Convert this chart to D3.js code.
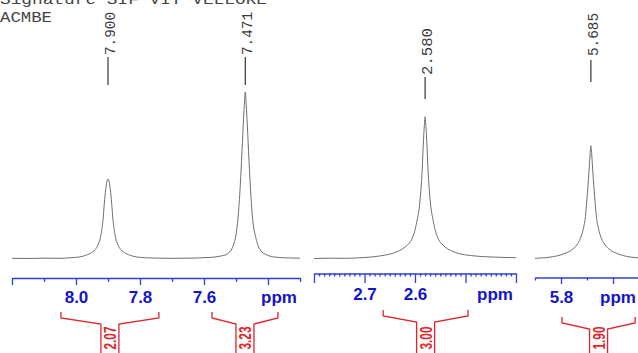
<!DOCTYPE html>
<html>
<head>
<meta charset="utf-8">
<script src="https://cdn.jsdelivr.net/npm/d3@7"></script>
<style>
  html, body { margin: 0; padding: 0; background: #fff; }
  svg { display: block; }
</style>
</head>
<body>
<svg id="chart" width="638" height="353"></svg>
<script>
// ---- spectrum traces: [chemical shift (ppm), intensity (tallest peak = 100)] ----
const aromaticTrace = [
  [8.20,0.4],[8.15,0.3],[8.10,0.5],[8.05,0.4],[8.02,0.7],[7.99,1.2],[7.973,2.0],[7.955,3.4],
  [7.940,5.6],[7.930,9.0],[7.923,13.5],[7.9156,23.5],[7.9114,33.5],[7.9073,41.5],[7.9035,46.3],
  [7.900,47.9],[7.8965,46.3],[7.8927,41.5],[7.8886,33.5],[7.8844,23.5],[7.877,13.5],[7.870,9.0],
  [7.860,5.6],[7.845,3.4],[7.827,2.0],[7.81,1.2],[7.78,0.7],[7.74,0.5],[7.70,0.4],[7.65,0.5],
  [7.62,0.6],[7.60,0.8],[7.575,1.0],[7.55,1.7],[7.5335,2.4],[7.5148,5.4],[7.507,9.0],[7.500,14.4],
  [7.4938,24.4],[7.4866,44.3],[7.4813,64.3],[7.4763,84.3],[7.4735,94.0],[7.471,100],[7.4685,94.0],
  [7.4657,84.3],[7.4607,64.3],[7.4554,44.3],[7.4482,24.4],[7.4376,12.4],[7.4241,5.4],[7.4032,2.4],
  [7.38,1.2],[7.3563,0.8],[7.33,0.6],[7.30,0.5]
];
const methylTrace = [
  [2.80,0.3],[2.77,0.5],[2.74,0.4],[2.71,0.7],[2.68,1.4],[2.66,2.3],[2.645,3.3],[2.635,4.4],
  [2.625,6.0],[2.615,8.4],[2.607,11.5],[2.601,16.3],[2.596,23.0],[2.591,32.3],[2.586,52.2],
  [2.583,72.3],[2.5815,80.0],[2.580,85.2],[2.5785,80.0],[2.577,72.3],[2.574,52.2],[2.569,32.3],
  [2.564,23.0],[2.559,16.3],[2.553,11.5],[2.545,8.4],[2.535,6.0],[2.524,4.4],[2.51,3.0],
  [2.49,2.1],[2.464,1.4],[2.44,1.1],[2.42,0.9],[2.40,0.8]
];
const vinylTrace = [
  [5.90,0.4],[5.88,0.6],[5.858,0.8],[5.83,1.4],[5.80,2.5],[5.784,3.4],[5.76,5.3],[5.7396,8.4],
  [5.725,12.5],[5.7138,18.4],[5.706,25.5],[5.701,34.3],[5.6915,54.3],[5.688,63.0],[5.685,67.8],
  [5.682,63.0],[5.6785,54.3],[5.669,34.3],[5.664,25.5],[5.6562,18.4],[5.645,12.5],[5.6304,8.4],
  [5.61,5.3],[5.5858,3.4],[5.56,2.0],[5.535,1.2],[5.512,0.8],[5.50,0.7]
];

// ---- picked peaks (ppm) ----
const aromaticPeaks = [7.900, 7.471];
const methylPeaks = [2.580];
const vinylPeaks = [5.685];

// ---- integrals: [from ppm, to ppm, value] ----
const aromaticIntegrals = [[8.047, 7.741, 2.07], [7.575, 7.369, 3.23]];
const methylIntegrals = [[2.663, 2.495, 3.00]];
const vinylIntegrals = [[5.796, 5.515, 1.90]];

// ---- axis ticks ----
const aromaticMajor = [8.2, 8.0, 7.8, 7.6, 7.4];
const aromaticMinor = [8.1, 7.9, 7.7, 7.5, 7.3];
const aromaticLabels = ["8.0", "7.8", "7.6"];
const methylMajor = [2.8, 2.7, 2.6, 2.5, 2.4];
const methylLabels = ["2.7", "2.6"];
const vinylMajor = [5.8, 5.6];
const vinylMinor = [5.9, 5.7, 5.5];
const vinylLabels = ["5.8"];

const headerLines = ["Signature SIF VIT VELLORE", "ACMBE"];

// ---------------------------------------------------------------
const svg = d3.select("#chart");
const AXIS_BLUE = "#2f3fd8";
const LABEL_BLUE = "#1414cc";
const INT_RED = "#e0262a";
const TRACE = "#6f6f6f";

const y = d3.scaleLinear().domain([0, 100]).range([259, 92]);

const panels = [
  { trace: aromaticTrace, peaks: aromaticPeaks, integrals: aromaticIntegrals,
    major: aromaticMajor, minor: aromaticMinor, labels: aromaticLabels,
    x: d3.scaleLinear().domain([8.2, 7.3]).range([12, 300]),
    axisY: 278, majorLen: 7, minorLen: 4, labelY: 303,
    peakTextBottom: 55, peakLine: [57, 85], peakTextLen: 43,
    intTop: 312 },
  { trace: methylTrace, peaks: methylPeaks, integrals: methylIntegrals,
    major: methylMajor, minor: d3.range(240, 281).map(i => i / 100).filter(v => Math.round(v * 100) % 10 !== 0), labels: methylLabels,
    x: d3.scaleLinear().domain([2.8, 2.4]).range([314, 516]),
    axisY: 273.5, majorLen: 9.5, minorLen: 3, labelY: 300,
    peakTextBottom: 75, peakLine: [77, 99], peakTextLen: 47,
    intTop: 310 },
  { trace: vinylTrace, peaks: vinylPeaks, integrals: vinylIntegrals,
    major: vinylMajor, minor: vinylMinor, labels: vinylLabels,
    x: d3.scaleLinear().domain([5.9, 5.5]).range([535, 639]),
    axisY: 277.5, majorLen: 6.5, minorLen: 3, labelY: 302.5,
    peakTextBottom: 56, peakLine: [60, 82], peakTextLen: 43,
    intTop: 317 }
];

const fmt1 = d3.format(".1f");

panels.forEach(p => {
  // spectrum trace
  const line = d3.line()
    .x(d => p.x(d[0]))
    .y(d => y(d[1]))
    .curve(d3.curveMonotoneX);
  svg.append("path")
    .datum(p.trace.slice().sort((a, b) => a[0] - b[0]))
    .attr("d", line)
    .attr("fill", "none")
    .attr("stroke", TRACE)
    .attr("stroke-width", 1);

  // ppm axis: minor ticks then labelled major ticks
  const g = svg.append("g").attr("transform", `translate(0,${p.axisY})`);
  g.append("g").call(
    d3.axisBottom(p.x).tickValues(p.minor).tickSize(p.minorLen).tickSizeOuter(0).tickFormat("")
  );
  const gMaj = g.append("g").call(
    d3.axisBottom(p.x).tickValues(p.major).tickSize(p.majorLen).tickSizeOuter(0)
      .tickFormat(d => p.labels.includes(fmt1(d)) ? fmt1(d) : "")
  );
  gMaj.select(".domain").remove();
  g.selectAll(".domain").attr("stroke", AXIS_BLUE).attr("stroke-width", 1.3);
  g.selectAll(".tick line").attr("stroke", AXIS_BLUE).attr("stroke-width", 1.3);
  gMaj.selectAll(".tick text")
    .attr("y", p.labelY - p.axisY)
    .attr("dy", null)
    .attr("fill", LABEL_BLUE)
    .attr("font-family", "'Liberation Sans', Arial, sans-serif")
    .attr("font-weight", "bold")
    .attr("font-size", 17);
  svg.append("text")
    .attr("x", p.x.range()[1] - 21)
    .attr("y", p.labelY)
    .attr("text-anchor", "middle")
    .attr("fill", LABEL_BLUE)
    .attr("font-family", "'Liberation Sans', Arial, sans-serif")
    .attr("font-weight", "bold")
    .attr("font-size", 17)
    .text("ppm");

  // peak picks
  p.peaks.forEach(v => {
    const px = p.x(v);
    svg.append("line")
      .attr("x1", px).attr("x2", px)
      .attr("y1", p.peakLine[0]).attr("y2", p.peakLine[1])
      .attr("stroke", "#222").attr("stroke-width", 1.1);
    svg.append("text")
      .attr("transform", `translate(${px + 7},${p.peakTextBottom}) rotate(-90)`)
      .attr("font-family", "'Liberation Mono', 'DejaVu Sans Mono', monospace")
      .attr("font-size", 15)
      .attr("fill", "#3a3a3a")
      .attr("textLength", p.peakTextLen)
      .attr("lengthAdjust", "spacingAndGlyphs")
      .text(v.toFixed(3));
  });

  // integral brackets
  p.integrals.forEach(([a, b, val]) => {
    const x0 = p.x(a), x1 = p.x(b), mid = (x0 + x1) / 2, gap = 9;
    const t = p.intTop;
    const path = `M${x0},${t} V${t + 6} L${mid - gap},${t + 12} V353 ` +
                 `M${x1},${t} V${t + 6} L${mid + gap},${t + 12} V353`;
    svg.append("path")
      .attr("d", path)
      .attr("fill", "none")
      .attr("stroke", INT_RED)
      .attr("stroke-width", 1.3);
    svg.append("text")
      .attr("transform", `translate(${mid + 6},${349.5}) rotate(-90)`)
      .attr("font-family", "'Liberation Sans', Arial, sans-serif")
      .attr("font-weight", "bold")
      .attr("font-size", 16)
      .attr("fill", INT_RED)
      .attr("textLength", 23)
      .attr("lengthAdjust", "spacingAndGlyphs")
      .text(val.toFixed(2));
  });
});

// header text
svg.append("text")
  .attr("x", 0).attr("y", 3.5)
  .attr("font-family", "'Liberation Mono', monospace")
  .attr("font-size", 15)
  .attr("fill", "#444")
  .attr("textLength", 267)
  .attr("lengthAdjust", "spacingAndGlyphs")
  .text(headerLines[0]);
svg.append("text")
  .attr("x", 0).attr("y", 21.5)
  .attr("font-family", "'Liberation Mono', monospace")
  .attr("font-size", 15)
  .attr("fill", "#444")
  .attr("textLength", 52)
  .attr("lengthAdjust", "spacingAndGlyphs")
  .text(headerLines[1]);
</script>
</body>
</html>
